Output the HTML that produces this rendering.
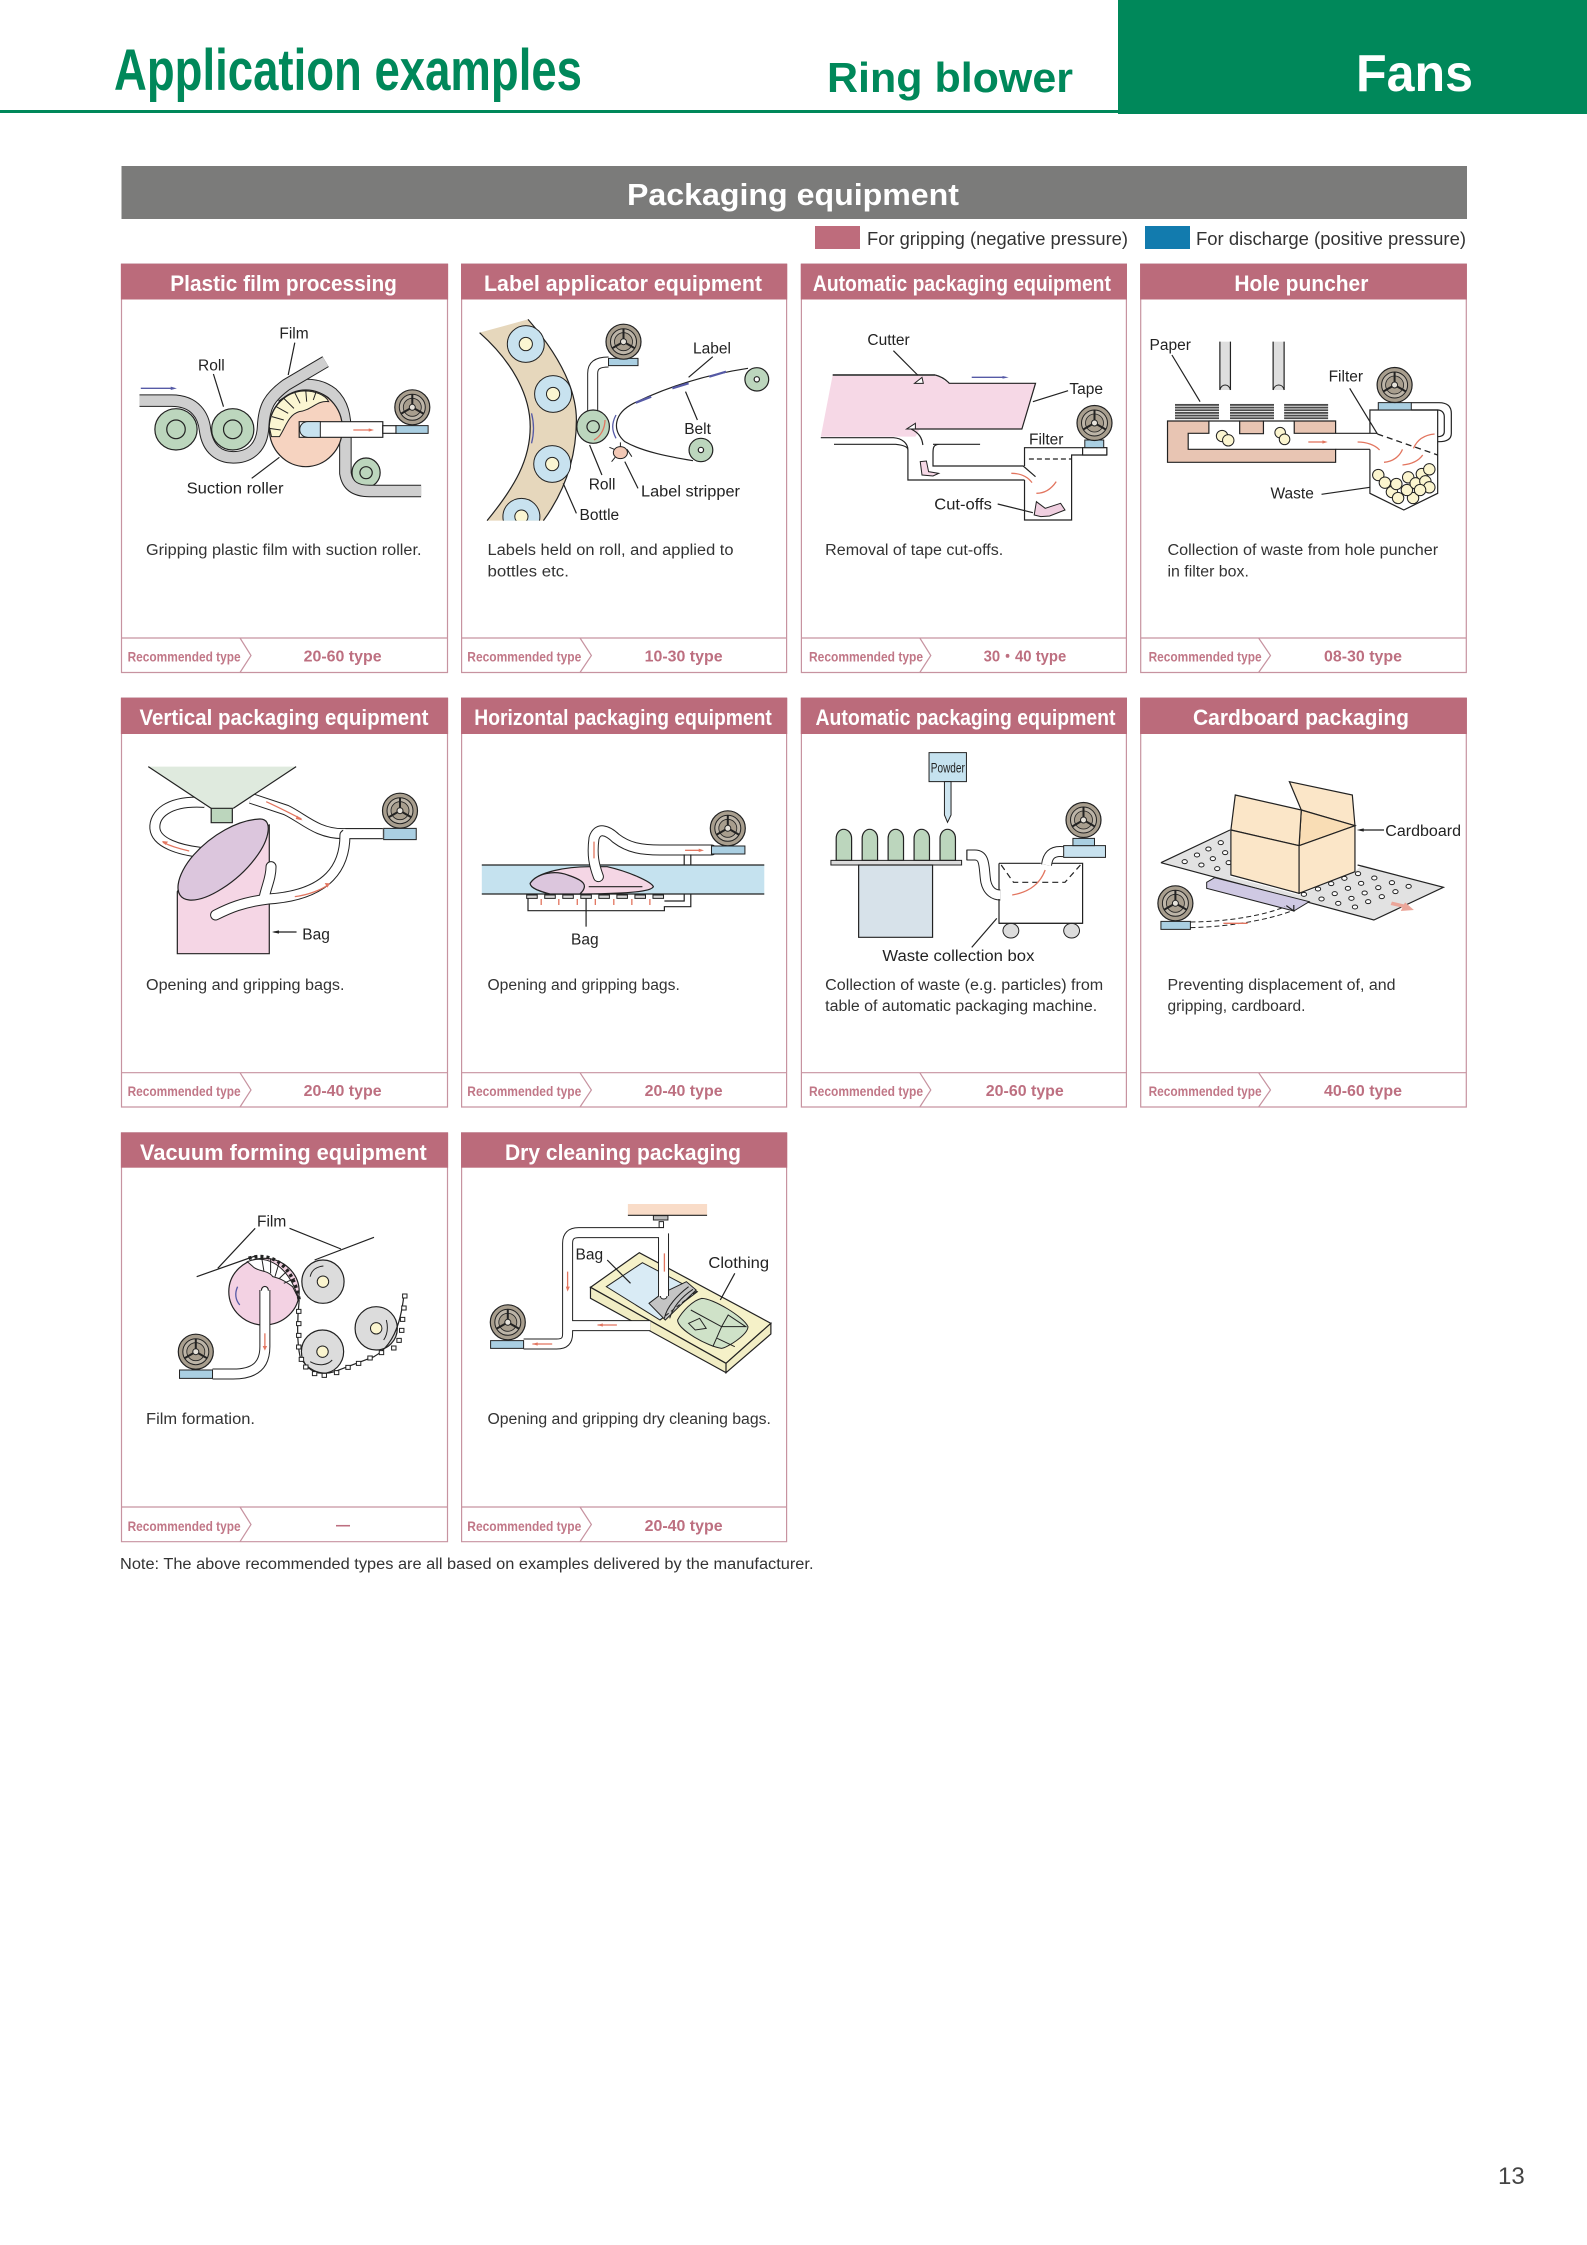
<!DOCTYPE html>
<html><head><meta charset="utf-8"><title>Application examples</title>
<style>
html,body{margin:0;padding:0;background:#fff}
svg{display:block;font-family:"Liberation Sans",sans-serif}
svg *{vector-effect:non-scaling-stroke}
.card{fill:#fff;stroke:#c793a0;stroke-width:1.2}
.hd{fill:#bb6b7b}
.ln{stroke:#c793a0;stroke-width:1.2;fill:none}
.t{font-size:22px;font-weight:bold;fill:#fff}
.d{font-size:15.5px;fill:#333}
.r{font-size:14px;font-weight:bold;fill:#c17787}
.y{font-size:15.5px;font-weight:bold;fill:#bd6f80}
.l{font-size:15.5px;fill:#222}
.k{fill:none;stroke:#222;stroke-width:1.2}
.s{stroke:#222;stroke-width:1.2}
.th{fill:none;stroke:#222;stroke-width:1}
.p1{fill:none;stroke:#222;stroke-width:11}
.p2{fill:none;stroke:#fff;stroke-width:9}
.rc{stroke-linecap:round}
.b1{fill:none;stroke:#222;stroke-width:12.5}
.b2{fill:none;stroke:#cfcfcf;stroke-width:10.5}
.ra{fill:none;stroke:#e2755f;stroke-width:1.3}
.rh{fill:#e2755f}
.ba{fill:none;stroke:#565aa6;stroke-width:1.3}
.bh{fill:#565aa6}
.gr{fill:#bcd6bd;stroke:#222;stroke-width:1.2}
.bl{fill:#aacfe2;stroke:#222;stroke-width:1}
.wh{fill:#fff;stroke:#222;stroke-width:1.2}
.cr{fill:#fbf5cf;stroke:#222;stroke-width:1}
.ho{fill:#fff;stroke:#222;stroke-width:1}
</style></head><body>
<svg xmlns="http://www.w3.org/2000/svg" width="1587" height="2245" viewBox="0 0 1587 2245">
<defs>
<g id="fan">
<circle r="17.5" fill="#a89e8e" stroke="#222" stroke-width="1.2"/>
<circle r="13" fill="#bdb5a8" stroke="#222" stroke-width="1"/>
<circle r="9" fill="#a89e8e" stroke="#222" stroke-width="0.8"/>
<path d="M0,0V-13M0,0L11.3,6.5M0,0L-11.3,6.5" stroke="#222" stroke-width="2" fill="none"/>
<circle r="3" fill="#e6e2da" stroke="#222" stroke-width="1"/>
</g>
<pattern id="st" patternUnits="userSpaceOnUse" width="10" height="8"><rect width="10" height="8" fill="#fff"/><rect width="10" height="5.5" fill="#4a4a4a"/></pattern>
</defs>
<rect width="1587" height="2245" fill="#fff"/>

<!-- page header -->
<rect x="0" y="110" width="1118" height="3" fill="#00885a"/>
<rect x="1118" y="0" width="469" height="114" fill="#00885a"/>
<text x="114" y="90" font-size="58" font-weight="bold" fill="#00885a" textLength="468" lengthAdjust="spacingAndGlyphs">Application examples</text>
<text x="827" y="92" font-size="42" font-weight="bold" fill="#00885a" textLength="246" lengthAdjust="spacingAndGlyphs">Ring blower</text>
<text x="1356" y="91" font-size="52" font-weight="bold" fill="#fff" textLength="117" lengthAdjust="spacingAndGlyphs">Fans</text>

<rect x="121.5" y="166" width="1345.5" height="53" fill="#7b7b7a"/>
<text x="627" y="205" font-size="31" font-weight="bold" fill="#fff" textLength="332" lengthAdjust="spacingAndGlyphs">Packaging equipment</text>

<rect x="815" y="226" width="45" height="23" fill="#be6c7c"/>
<text x="867" y="245" font-size="18.5" fill="#333" textLength="261" lengthAdjust="spacingAndGlyphs">For gripping (negative pressure)</text>
<rect x="1145" y="226" width="45" height="23" fill="#127bae"/>
<text x="1196" y="245" font-size="18.5" fill="#333" textLength="270" lengthAdjust="spacingAndGlyphs">For discharge (positive pressure)</text>

<!-- cards row 1 -->
<rect class="card" x="121.5" y="264" width="326" height="408.5"/><rect class="hd" x="120.9" y="264" width="327.2" height="35.5"/>
<rect class="card" x="461.6" y="264" width="325" height="408.5"/><rect class="hd" x="461" y="264" width="326.2" height="35.5"/>
<rect class="card" x="801.4" y="264" width="325" height="408.5"/><rect class="hd" x="800.8" y="264" width="326.2" height="35.5"/>
<rect class="card" x="1140.7" y="264" width="325.6" height="408.5"/><rect class="hd" x="1140.1" y="264" width="326.8" height="35.5"/>
<path class="ln" d="M121.5,638H447.5M240,638L251,655.5L240,672.5M461.6,638H786.6M580,638L591.4,655.5L580,672.5M801.4,638H1126.4M919.8,638L930.8,655.5L919.8,672.5M1140.7,638H1466.3M1258.6,638L1270.5,655.5L1258.6,672.5"/>
<!-- cards row 2 -->
<rect class="card" x="121.5" y="698" width="326" height="409"/><rect class="hd" x="120.9" y="698" width="327.2" height="36"/>
<rect class="card" x="461.6" y="698" width="325" height="409"/><rect class="hd" x="461" y="698" width="326.2" height="36"/>
<rect class="card" x="801.4" y="698" width="325" height="409"/><rect class="hd" x="800.8" y="698" width="326.2" height="36"/>
<rect class="card" x="1140.7" y="698" width="325.6" height="409"/><rect class="hd" x="1140.1" y="698" width="326.8" height="36"/>
<path class="ln" d="M121.5,1072.7H447.5M240,1072.7L251,1090L240,1107M461.6,1072.7H786.6M580,1072.7L591.4,1090L580,1107M801.4,1072.7H1126.4M919.8,1072.7L930.8,1090L919.8,1107M1140.7,1072.7H1466.3M1258.6,1072.7L1270.5,1090L1258.6,1107"/>
<!-- cards row 3 -->
<rect class="card" x="121.5" y="1132.7" width="326" height="409"/><rect class="hd" x="120.9" y="1132.7" width="327.2" height="35"/>
<rect class="card" x="461.6" y="1132.7" width="325" height="409"/><rect class="hd" x="461" y="1132.7" width="326.2" height="35"/>
<path class="ln" d="M121.5,1507H447.5M240,1507L251,1524.5L240,1541.7M461.6,1507H786.6M580,1507L591.4,1524.5L580,1541.7"/>

<!-- titles -->
<text class="t" x="170.3" y="291" textLength="226.6" lengthAdjust="spacingAndGlyphs">Plastic film processing</text>
<text class="t" x="484" y="291" textLength="278" lengthAdjust="spacingAndGlyphs">Label applicator equipment</text>
<text class="t" x="812.9" y="291" textLength="298" lengthAdjust="spacingAndGlyphs">Automatic packaging equipment</text>
<text class="t" x="1234.4" y="291" textLength="134" lengthAdjust="spacingAndGlyphs">Hole puncher</text>
<text class="t" x="139.5" y="725" textLength="289" lengthAdjust="spacingAndGlyphs">Vertical packaging equipment</text>
<text class="t" x="474.3" y="725" textLength="297.5" lengthAdjust="spacingAndGlyphs">Horizontal packaging equipment</text>
<text class="t" x="815.5" y="725" textLength="300" lengthAdjust="spacingAndGlyphs">Automatic packaging equipment</text>
<text class="t" x="1193" y="725" textLength="216" lengthAdjust="spacingAndGlyphs">Cardboard packaging</text>
<text class="t" x="140" y="1160" textLength="286.8" lengthAdjust="spacingAndGlyphs">Vacuum forming equipment</text>
<text class="t" x="505" y="1160" textLength="236" lengthAdjust="spacingAndGlyphs">Dry cleaning packaging</text>

<!-- descriptions -->
<text class="d" x="146" y="555" textLength="275.5" lengthAdjust="spacingAndGlyphs">Gripping plastic film with suction roller.</text>
<text class="d" x="487.5" y="555" textLength="246" lengthAdjust="spacingAndGlyphs">Labels held on roll, and applied to</text>
<text class="d" x="487.5" y="576.7" textLength="81.4" lengthAdjust="spacingAndGlyphs">bottles etc.</text>
<text class="d" x="825.2" y="555" textLength="178" lengthAdjust="spacingAndGlyphs">Removal of tape cut-offs.</text>
<text class="d" x="1167.5" y="555" textLength="270.6" lengthAdjust="spacingAndGlyphs">Collection of waste from hole puncher</text>
<text class="d" x="1167.5" y="576.7" textLength="81.4" lengthAdjust="spacingAndGlyphs">in filter box.</text>
<text class="d" x="146" y="990" textLength="198.5" lengthAdjust="spacingAndGlyphs">Opening and gripping bags.</text>
<text class="d" x="487.5" y="990" textLength="192.3" lengthAdjust="spacingAndGlyphs">Opening and gripping bags.</text>
<text class="d" x="825.2" y="990" textLength="278" lengthAdjust="spacingAndGlyphs">Collection of waste (e.g. particles) from</text>
<text class="d" x="825.2" y="1011" textLength="272" lengthAdjust="spacingAndGlyphs">table of automatic packaging machine.</text>
<text class="d" x="1167.5" y="990" textLength="228" lengthAdjust="spacingAndGlyphs">Preventing displacement of, and</text>
<text class="d" x="1167.5" y="1011" textLength="138" lengthAdjust="spacingAndGlyphs">gripping, cardboard.</text>
<text class="d" x="146" y="1424" textLength="109" lengthAdjust="spacingAndGlyphs">Film formation.</text>
<text class="d" x="487.5" y="1424" textLength="283.4" lengthAdjust="spacingAndGlyphs">Opening and gripping dry cleaning bags.</text>
<text class="d" x="120" y="1569" textLength="693.5" lengthAdjust="spacingAndGlyphs">Note: The above recommended types are all based on examples delivered by the manufacturer.</text>

<!-- footers -->
<text class="r" x="127.6" y="661.7" textLength="113" lengthAdjust="spacingAndGlyphs">Recommended type</text>
<text class="r" x="467.3" y="661.7" textLength="114" lengthAdjust="spacingAndGlyphs">Recommended type</text>
<text class="r" x="809" y="661.7" textLength="114" lengthAdjust="spacingAndGlyphs">Recommended type</text>
<text class="r" x="1148.6" y="661.7" textLength="113" lengthAdjust="spacingAndGlyphs">Recommended type</text>
<text class="r" x="127.6" y="1096" textLength="113" lengthAdjust="spacingAndGlyphs">Recommended type</text>
<text class="r" x="467.3" y="1096" textLength="114" lengthAdjust="spacingAndGlyphs">Recommended type</text>
<text class="r" x="809" y="1096" textLength="114" lengthAdjust="spacingAndGlyphs">Recommended type</text>
<text class="r" x="1148.6" y="1096" textLength="113" lengthAdjust="spacingAndGlyphs">Recommended type</text>
<text class="r" x="127.6" y="1531" textLength="113" lengthAdjust="spacingAndGlyphs">Recommended type</text>
<text class="r" x="467.3" y="1531" textLength="114" lengthAdjust="spacingAndGlyphs">Recommended type</text>
<text class="y" x="303.6" y="661.7" textLength="78" lengthAdjust="spacingAndGlyphs">20-60 type</text>
<text class="y" x="644.6" y="661.7" textLength="78" lengthAdjust="spacingAndGlyphs">10-30 type</text>
<text class="y" x="983.6" y="661.7" textLength="82.7" lengthAdjust="spacingAndGlyphs">30・40 type</text>
<text class="y" x="1324" y="661.7" textLength="78" lengthAdjust="spacingAndGlyphs">08-30 type</text>
<text class="y" x="303.6" y="1096" textLength="78" lengthAdjust="spacingAndGlyphs">20-40 type</text>
<text class="y" x="644.6" y="1096" textLength="78" lengthAdjust="spacingAndGlyphs">20-40 type</text>
<text class="y" x="985.8" y="1096" textLength="78" lengthAdjust="spacingAndGlyphs">20-60 type</text>
<text class="y" x="1324" y="1096" textLength="78" lengthAdjust="spacingAndGlyphs">40-60 type</text>
<text class="y" x="336" y="1530" textLength="14" lengthAdjust="spacingAndGlyphs">—</text>
<text class="y" x="644.6" y="1531" textLength="78" lengthAdjust="spacingAndGlyphs">20-40 type</text>

<!-- D1 + D2 -->
<g transform="translate(110,260) scale(.44,.33333)">
<ellipse class="gr" cx="150" cy="508" rx="48" ry="62"/><ellipse class="gr" cx="150" cy="508" rx="21" ry="28" fill="#bcd6bd"/>
<ellipse class="gr" cx="279" cy="508" rx="48" ry="62"/><ellipse class="gr" cx="279" cy="508" rx="21" ry="28"/>
<ellipse class="gr" cx="582" cy="638" rx="32" ry="44"/><ellipse class="gr" cx="582" cy="638" rx="14" ry="18"/>
<path class="b1" d="M375,410C420,365 470,365 505,400C530,430 535,470 535,520V640C540,680 560,693 590,693H707"/>
<path class="b2" d="M375,410C420,365 470,365 505,400C530,430 535,470 535,520V640C540,680 560,693 590,693H707"/>
<path class="b1" d="M67,422H140C195,422 213,470 216,510C222,570 250,592 280,592C320,592 346,560 348,500C350,440 362,412 400,375L490,305"/>
<path class="b2" d="M67,422H140C195,422 213,470 216,510C222,570 250,592 280,592C320,592 346,560 348,500C350,440 362,412 400,375L490,305"/>
<ellipse class="s" cx="445" cy="505" rx="83" ry="115" fill="#f6d3c0"/>
<path d="M362,500C365,440 400,395 440,393C465,392 490,405 497,425C470,420 460,450 430,455C405,465 400,500 385,530L367,530Z" fill="#fbf6d2" stroke="#222" stroke-width="1"/>
<path class="th" d="M368,470L395,480M378,440L405,460M395,415L418,445M420,398L432,430M445,393L447,425M468,397L462,420M362,505L388,510"/>
<rect class="wh" x="430" y="485" width="190" height="47"/>
<path d="M478,485H450C425,485 425,532 450,532H478Z" fill="#c8e2ef" stroke="#222" stroke-width="1"/>
<rect class="wh" x="620" y="497" width="30" height="23"/>
<rect class="bl" x="650" y="497" width="73" height="23"/>
<path class="ra" d="M553,510H590"/><path class="rh" d="M588,505L600,510L588,515Z"/>
<path class="ba" d="M70,385H140"/><path class="bh" d="M138,380L152,385L138,390Z"/>
<path class="k" d="M235,342L258,440M420,248L405,345M322,655L385,592"/>

<path d="M840,218L950,178C1030,300 1060,400 1060,480C1060,600 1030,700 985,782H857C920,680 955,600 955,500C955,400 910,300 840,218Z" fill="#e6d7bc"/>
<path class="k" d="M840,218C910,300 955,400 955,500C955,600 920,680 857,782M950,178C1030,300 1060,400 1060,480C1060,600 1030,700 985,782"/>
<clipPath id="cp2"><rect x="830" y="170" width="300" height="612"/></clipPath>
<g clip-path="url(#cp2)" stroke="#222" stroke-width="1">
<ellipse cx="945" cy="252" rx="42" ry="55" fill="#c8e2ef"/><ellipse cx="945" cy="252" rx="15" ry="20" fill="#fbf6d2"/>
<ellipse cx="1007" cy="402" rx="42" ry="55" fill="#c8e2ef"/><ellipse cx="1007" cy="402" rx="15" ry="20" fill="#fbf6d2"/>
<ellipse cx="1005" cy="612" rx="42" ry="55" fill="#c8e2ef"/><ellipse cx="1005" cy="612" rx="15" ry="20" fill="#fbf6d2"/>
<ellipse cx="935" cy="770" rx="42" ry="55" fill="#c8e2ef"/><ellipse cx="935" cy="770" rx="15" ry="20" fill="#fbf6d2"/>
</g>
<path class="ba" d="M958,460C964,490 964,520 958,550"/>
<path class="p1" d="M1097,455V340C1097,315 1110,306 1133,306"/><path class="p2" d="M1097,455V340C1097,315 1110,306 1133,306"/>
<rect class="bl" x="1133" y="295" width="67" height="22"/>
<ellipse class="gr" cx="1098" cy="500" rx="37" ry="50"/><ellipse class="gr" cx="1098" cy="500" rx="14" ry="18"/>
<path class="ra" d="M1100,540C1115,530 1125,505 1125,480"/>
<path class="ba" d="M1150,465C1140,490 1140,510 1150,535"/>
<path class="k" d="M1450,325C1350,345 1260,385 1190,430C1145,460 1140,510 1170,545C1210,575 1270,590 1325,602"/>
<ellipse class="gr" cx="1470" cy="358" rx="27" ry="35"/><ellipse class="wh" cx="1470" cy="358" rx="6" ry="8"/>
<ellipse class="gr" cx="1343" cy="570" rx="27" ry="35"/><ellipse class="wh" cx="1343" cy="570" rx="6" ry="8"/>
<path d="M1195,428L1230,410M1278,385L1315,370M1362,350L1400,335" stroke="#565aa6" stroke-width="2.2" fill="none"/>
<ellipse cx="1160" cy="578" rx="16" ry="18" fill="#f3c8b5" stroke="#222" stroke-width="1"/>
<path class="th" d="M1146,568L1135,562M1175,568L1186,590M1160,560V547M1148,592L1140,605"/>
<path class="k" d="M1370,290L1315,352M1335,480L1308,395M1118,645L1090,555M1200,685L1170,605M1060,760L1030,670"/>
</g>

<!-- D3 + D4 -->
<g transform="translate(790,260) scale(.44,.33333)">
<path d="M97,345H330L362,370H558L527,507H295L285,530H70Z" fill="#f6d8e6"/>
<path d="M97,345H330" stroke="#555" stroke-width="2" fill="none"/>
<path class="k" d="M330,345C345,350 355,360 362,370H558L527,507H280M70,533H235C255,535 268,550 268,570V660H533M100,553H240C255,555 268,560 268,570M325,553H432M340,553C325,553 325,565 325,580V618H530L558,650"/>
<path d="M283,370H303L300,352Z" fill="#fff" stroke="#222" stroke-width="1"/>
<path d="M265,507H285V490Z" fill="#fff" stroke="#222" stroke-width="1"/>
<path class="k" d="M275,507C295,520 300,535 302,555"/>
<path class="ba" d="M413,352H485"/><path class="bh" d="M483,348L497,352L483,356Z"/>
<path d="M296,605L310,603L315,635L338,640L325,648L300,645Z" fill="#f6d8e6" stroke="#222" stroke-width="1"/>
<path class="k" d="M533,660V780H640V585H720M533,618V563H720V585"/>
<rect class="wh" x="665" y="563" width="55" height="22"/>
<rect class="bl" x="670" y="540" width="43" height="23"/>
<path d="M543,597H640" stroke="#222" stroke-width="1.3" stroke-dasharray="5 3" fill="none"/>
<path class="ra" d="M503,640C525,640 540,650 550,668"/><path class="ra" d="M560,700C580,700 595,685 605,665"/>
<path d="M555,765L560,725L580,745L615,730L625,750L590,768L570,770Z" fill="#f0cfe0" stroke="#222" stroke-width="1"/>
<path class="k" d="M235,272L290,345M632,392L552,425M472,732L552,758"/>

<rect x="977" y="245" width="24" height="145" fill="#dedede"/><rect x="1098" y="245" width="25" height="145" fill="#dedede"/>
<path class="k" d="M977,245V390M1001,245V390M1098,245V390M1123,245V390"/>
<path class="th" d="M977,390C980,370 998,370 1001,390M1098,390C1102,370 1120,370 1123,390"/>
<rect x="875" y="430" width="100" height="50" fill="url(#st)"/><rect x="1000" y="430" width="100" height="50" fill="url(#st)"/><rect x="1123" y="430" width="100" height="50" fill="url(#st)"/>
<path d="M858,483H952V520H905V568H1240V607H858Z" fill="#e8c5b3" stroke="#222" stroke-width="1.2"/>
<rect x="1022" y="483" width="54" height="38" fill="#e8c5b3" stroke="#222" stroke-width="1.2"/>
<path d="M1146,483H1240V520H1146Z" fill="#e8c5b3" stroke="#222" stroke-width="1.2"/>
<path class="k" d="M952,483H1022M1076,483H1146M1240,520H1335M1240,568H1318"/>
<path class="k" d="M1318,568V700L1395,750L1472,700V450H1318V520"/>
<path d="M1335,522L1472,585" stroke="#222" stroke-width="1.3" stroke-dasharray="6 4" fill="none"/>
<rect class="bl" x="1337" y="428" width="75" height="22"/>
<path class="k" d="M1412,428H1475C1495,428 1503,440 1503,460V520C1503,535 1495,545 1475,545H1472M1412,450H1472C1482,450 1487,460 1487,470V515C1487,525 1482,530 1472,530"/>
<g class="cr">
<ellipse cx="982" cy="528" rx="13" ry="17"/><ellipse cx="996" cy="541" rx="13" ry="17"/><ellipse cx="1114" cy="518" rx="12" ry="16"/><ellipse cx="1124" cy="538" rx="12" ry="16"/>
<ellipse cx="1337" cy="645" rx="13" ry="17"/><ellipse cx="1352" cy="668" rx="13" ry="17"/><ellipse cx="1368" cy="696" rx="13" ry="17"/><ellipse cx="1382" cy="714" rx="13" ry="17"/><ellipse cx="1416" cy="714" rx="13" ry="17"/><ellipse cx="1402" cy="690" rx="13" ry="17"/><ellipse cx="1378" cy="672" rx="13" ry="17"/><ellipse cx="1405" cy="652" rx="13" ry="17"/><ellipse cx="1422" cy="670" rx="13" ry="17"/><ellipse cx="1436" cy="642" rx="13" ry="17"/><ellipse cx="1453" cy="628" rx="13" ry="17"/><ellipse cx="1444" cy="664" rx="13" ry="17"/><ellipse cx="1453" cy="682" rx="13" ry="17"/><ellipse cx="1432" cy="690" rx="13" ry="17"/>
</g>
<path class="ra" d="M1178,546H1212"/><path class="rh" d="M1210,541L1222,546L1210,551Z"/>
<path class="ra" d="M1290,546C1310,546 1330,555 1340,570M1350,607C1370,605 1385,590 1392,568M1392,615C1415,612 1430,600 1438,585M1417,565C1425,540 1440,525 1465,522"/>
<path class="k" d="M868,285L932,425M1272,385L1335,522M1208,703L1318,682"/>
</g>

<!-- D5 + D6 -->
<g transform="translate(110,695) scale(.44,.33333)">
<path class="p1" d="M620,416H530C470,416 440,370 400,345L320,310"/><path class="p2" d="M620,416H530C470,416 440,370 400,345L320,310"/>
<path class="p1" d="M215,322C130,315 100,360 102,400C105,445 160,465 205,472"/><path class="p2" d="M215,322C130,315 100,360 102,400C105,445 160,465 205,472"/>
<path d="M153,590V776H362V390L200,480Z" fill="#f5d6e5" stroke="#222" stroke-width="1.2"/>
<path d="M87,215H423L280,340H230Z" fill="#dfeade"/><path class="k" d="M87,215L230,340M423,215L280,340"/>
<rect class="gr" x="230" y="340" width="48" height="43"/>
<path d="M340,372C370,370 365,430 330,490C290,560 220,620 180,615C140,610 150,540 190,480C230,420 290,375 340,372Z" fill="#dcc6dd" stroke="#222" stroke-width="1.2"/>
<path class="p1 rc" d="M534,420C534,510 500,600 360,612C300,622 270,640 240,660"/>
<path class="p1 rc" d="M366,515C366,550 355,575 350,610"/>
<path class="p1" d="M620,416H535"/>
<path class="p2 rc" d="M534,420C534,510 500,600 360,612C300,622 270,640 240,660"/>
<path class="p2 rc" d="M366,515C366,550 355,575 350,610"/>
<path class="p2" d="M620,416H530"/>
<rect class="bl" x="622" y="400" width="74" height="34"/>
<path class="ra" d="M355,320C380,335 410,355 435,372"/><path class="rh" d="M425,362L438,376L422,372Z"/>
<path class="ra" d="M120,442C140,455 160,462 180,468"/><path class="rh" d="M118,438L132,440L126,450Z"/>
<path class="ra" d="M420,605C450,600 480,585 497,568"/><path class="rh" d="M488,564L500,565L494,578Z"/>
<path class="k" d="M372,711H424"/><path d="M368,711L384,706V716Z" fill="#222"/>

<rect x="845" y="510" width="642" height="87" fill="#c5e2ef"/>
<path class="k" d="M845,510H1487M845,597H1487"/>
<path d="M955,565C970,530 1040,515 1090,515H1130C1180,530 1230,560 1235,575C1230,590 1180,595 1080,597H1000C980,590 955,580 955,565Z" fill="#f5d6e5" stroke="#222" stroke-width="1.2"/>
<path d="M955,565C970,535 1010,525 1040,540C1075,555 1090,570 1068,597H1000C980,590 955,580 955,565Z" fill="#dcc6dd" stroke="#222" stroke-width="1.2"/>
<path class="k" d="M1088,575H1210"/>
<path class="p1 rc" d="M1110,545C1100,510 1095,480 1100,430C1108,395 1130,405 1150,430C1180,460 1210,465 1250,465H1367"/>
<path class="p2 rc" d="M1110,545C1100,510 1095,480 1100,430C1108,395 1130,405 1150,430C1180,460 1210,465 1250,465H1367"/>
<path class="k" d="M1305,478V510M1320,478V510M1305,597V618H1260M1320,597V635H1260V647H950V610"/>
<rect class="bl" x="1367" y="453" width="76" height="24"/>
<g fill="#d8d8d8" stroke="#222" stroke-width="1"><rect x="947" y="600" width="24" height="10"/><rect x="988" y="600" width="24" height="10"/><rect x="1029" y="600" width="24" height="10"/><rect x="1070" y="600" width="24" height="10"/><rect x="1111" y="600" width="24" height="10"/><rect x="1152" y="600" width="24" height="10"/><rect x="1193" y="600" width="24" height="10"/><rect x="1234" y="600" width="24" height="10"/></g>
<path class="ra" d="M980,612V630M1020,612V630M1062,612V630M1103,612V630M1145,612V630M1186,612V630M1227,612V630M1100,490V440"/>
<path class="ra" d="M1307,466H1340"/><path class="rh" d="M1338,461L1350,466L1338,471Z"/>
<path class="k" d="M1082,610V695"/>
</g>

<!-- D7 + D8 -->
<g transform="translate(790,695) scale(.44,.33333)">
<rect class="bl" x="316" y="173" width="85" height="87" fill="#c5e2ef" style="fill:#c5e2ef"/>
<path d="M351,260H366V360L358,382L351,360Z" fill="#cde5f0" stroke="#222" stroke-width="1"/>
<rect x="93" y="496" width="297" height="14" fill="#dcdcdc" stroke="#222" stroke-width="1"/>
<rect x="156" y="510" width="168" height="217" fill="#d7e2ea" stroke="#222" stroke-width="1.2"/>
<g class="gr">
<path d="M105,496V430C105,415 112,403 122,403C132,403 140,415 140,430V496Z"/><path d="M164,496V430C164,415 171,403 181,403C191,403 199,415 199,430V496Z"/><path d="M223,496V430C223,415 230,403 240,403C250,403 258,415 258,430V496Z"/><path d="M282,496V430C282,415 289,403 299,403C309,403 317,415 317,430V496Z"/><path d="M341,496V430C341,415 348,403 358,403C368,403 376,415 376,430V496Z"/>
</g>
<path class="p1" d="M402,480H420C445,480 440,520 445,560C450,590 465,600 478,600"/><path class="p2" d="M402,480H420C445,480 440,520 445,560C450,590 465,600 478,600"/>
<path class="k" d="M402,464V496"/>
<path class="p1" d="M622,470C590,465 585,490 583,510"/><path class="p2" d="M622,470C590,465 585,490 583,510"/>
<path class="k" d="M475,505H570M595,505H665V685H475V612M475,585V505"/>
<ellipse cx="502" cy="707" rx="18" ry="22" fill="#dcdcdc" stroke="#222" stroke-width="1"/><ellipse cx="640" cy="707" rx="18" ry="22" fill="#dcdcdc" stroke="#222" stroke-width="1"/>
<path class="k" d="M475,685H665"/>
<path d="M480,510L508,562H625L660,510" stroke="#222" stroke-width="1.2" stroke-dasharray="6 4" fill="none"/>
<rect class="bl" x="622" y="452" width="95" height="35" style="fill:#c8e2ef"/><rect class="bl" x="643" y="430" width="49" height="22"/>
<path class="ra" d="M505,600C550,590 570,560 580,525"/>
<path class="k" d="M470,670L413,757"/>

<path d="M843,503L1000,405V545L1157,600L1284,530L1300,510L1485,577L1327,675Z" fill="#e2e2e2"/>
<path class="k" d="M843,503L1000,405M843,503L1327,675L1485,577L1290,510"/>
<g class="ho">
<ellipse cx="897" cy="500" rx="6" ry="6"/><ellipse cx="925" cy="480" rx="6" ry="6"/><ellipse cx="951" cy="462" rx="6" ry="6"/><ellipse cx="979" cy="443" rx="6" ry="6"/><ellipse cx="935" cy="510" rx="6" ry="6"/><ellipse cx="961" cy="491" rx="6" ry="6"/><ellipse cx="989" cy="473" rx="6" ry="6"/><ellipse cx="971" cy="521" rx="6" ry="6"/><ellipse cx="997" cy="503" rx="6" ry="6"/>
<ellipse cx="1168" cy="598" rx="6" ry="6"/><ellipse cx="1200" cy="582" rx="6" ry="6"/><ellipse cx="1230" cy="566" rx="6" ry="6"/><ellipse cx="1260" cy="550" rx="6" ry="6"/><ellipse cx="1291" cy="536" rx="6" ry="6"/>
<ellipse cx="1208" cy="612" rx="6" ry="6"/><ellipse cx="1238" cy="596" rx="6" ry="6"/><ellipse cx="1268" cy="580" rx="6" ry="6"/><ellipse cx="1298" cy="565" rx="6" ry="6"/><ellipse cx="1328" cy="549" rx="6" ry="6"/>
<ellipse cx="1246" cy="625" rx="6" ry="6"/><ellipse cx="1276" cy="610" rx="6" ry="6"/><ellipse cx="1306" cy="594" rx="6" ry="6"/><ellipse cx="1337" cy="578" rx="6" ry="6"/><ellipse cx="1368" cy="563" rx="6" ry="6"/>
<ellipse cx="1284" cy="636" rx="6" ry="6"/><ellipse cx="1314" cy="620" rx="6" ry="6"/><ellipse cx="1345" cy="605" rx="6" ry="6"/><ellipse cx="1376" cy="590" rx="6" ry="6"/><ellipse cx="1406" cy="574" rx="6" ry="6"/>
</g>
<path d="M947,562L965,548L1180,620L1145,648L947,580Z" fill="#cfc9e3" stroke="#222" stroke-width="1"/>
<path class="k" d="M1128,632L1145,648V630"/>
<path d="M1135,260L1278,300L1284,392L1162,345Z" fill="#fbe6c8" stroke="#222" stroke-width="1.2"/>
<path d="M1162,345L1284,392L1157,452Z" fill="#f9ddb5" stroke="#222" stroke-width="1.2"/>
<path d="M1012,300L1162,345L1157,452L1002,405Z" fill="#fbe6c8" stroke="#222" stroke-width="1.2"/>
<path d="M1002,405L1157,452V595L1002,540Z" fill="#fbe6c8" stroke="#222" stroke-width="1.2"/>
<path d="M1157,452L1284,392V530L1157,595Z" fill="#fbe6c8" stroke="#222" stroke-width="1.2"/>
<path d="M910,681C1000,680 1080,660 1125,635M910,698C1010,695 1100,670 1145,645" stroke="#222" stroke-width="1" stroke-dasharray="5 3" fill="none"/>
<rect class="bl" x="843" y="679" width="67" height="24"/>
<path class="ra" d="M985,685H1040"/><path d="M1368,620L1395,628L1398,622L1418,645L1388,648L1392,638L1365,630Z" fill="#eba69a"/>
<path class="k" d="M1296,405H1350"/><path d="M1288,405L1304,400V410Z" fill="#222"/>
</g>

<!-- D9 + D10 -->
<g transform="translate(110,1130) scale(.44,.33333)">
<ellipse cx="350" cy="485" rx="80" ry="100" fill="#f3d2e3" stroke="#222" stroke-width="1.2"/>
<path d="M312,395C345,378 400,385 430,510L415,470C395,450 385,445 370,440C360,420 335,425 325,410Z" fill="#fff" stroke="#222" stroke-width="1"/>
<path class="th" d="M345,385L350,425M365,385L365,430M385,395L375,440M405,420L385,445M420,445L395,460"/>
<path d="M315,385C365,365 415,400 430,510" stroke="#222" stroke-width="3.5" stroke-dasharray="3 3" fill="none"/>
<path class="k" d="M197,440L330,378M465,390L600,322"/>
<path class="ba" d="M290,470C283,490 285,510 295,525"/>
<ellipse cx="484" cy="455" rx="48" ry="65" fill="#dcdcdc" stroke="#222" stroke-width="1.2"/><ellipse class="cr" cx="484" cy="455" rx="13" ry="17"/>
<ellipse cx="483" cy="665" rx="48" ry="65" fill="#dcdcdc" stroke="#222" stroke-width="1.2"/><ellipse class="cr" cx="483" cy="665" rx="13" ry="17"/>
<ellipse cx="605" cy="595" rx="48" ry="65" fill="#dcdcdc" stroke="#222" stroke-width="1.2"/><ellipse class="cr" cx="605" cy="595" rx="13" ry="17"/>
<path class="th" d="M455,440C458,420 470,410 485,408M505,690C495,705 475,710 455,695M628,570C632,590 632,610 622,630"/>
<path class="k" d="M430,510C425,570 425,640 432,680C445,715 475,740 510,725L600,680C640,650 660,590 668,495"/>
<g fill="#fff" stroke="#222" stroke-width="1"><rect x="424" y="538" width="10" height="12"/><rect x="424" y="575" width="10" height="12"/><rect x="424" y="610" width="10" height="12"/><rect x="424" y="645" width="10" height="12"/><rect x="430" y="682" width="10" height="12"/><rect x="440" y="705" width="10" height="12"/><rect x="460" y="725" width="10" height="12"/><rect x="482" y="730" width="10" height="12"/><rect x="510" y="722" width="10" height="12"/><rect x="536" y="706" width="10" height="12"/><rect x="560" y="694" width="10" height="12"/><rect x="586" y="678" width="10" height="12"/><rect x="612" y="662" width="10" height="12"/><rect x="640" y="648" width="10" height="12"/><rect x="652" y="625" width="10" height="12"/><rect x="658" y="595" width="10" height="12"/><rect x="660" y="562" width="10" height="12"/><rect x="663" y="528" width="10" height="12"/><rect x="665" y="492" width="10" height="12"/></g>
<path class="p1" d="M352,480V650C352,705 330,732 280,732H233"/><path class="p2" d="M352,480V650C352,705 330,732 280,732H233"/>
<path d="M344,482C344,465 360,465 360,482" fill="#fff" stroke="#222" stroke-width="1.2"/>
<path class="ra" d="M352,610V650"/><path class="rh" d="M347,648L352,662L357,648Z"/>
<rect class="bl" x="158" y="720" width="75" height="25"/>
<path class="k" d="M330,295L245,415M408,295L525,357"/>

<path d="M1092,472L1203,368L1502,580L1400,700Z" fill="#f5f1c8" stroke="#222" stroke-width="1.2"/>
<path d="M1092,472L1400,700V728L1092,505ZM1400,700L1502,580V612L1400,728Z" fill="#f1edc4" stroke="#222" stroke-width="1.2"/>
<path d="M1128,470L1210,398L1335,485L1250,570Z" fill="#d9ebf5" stroke="#222" stroke-width="1"/>
<path d="M1225,520L1255,490L1310,455L1332,480L1262,570Z" fill="#c4c4c4" stroke="#222" stroke-width="1"/>
<path class="th" d="M1260,565C1265,530 1290,495 1315,470M1272,565C1280,530 1300,500 1325,478"/>
<path d="M1250,570L1335,482" stroke="#222" stroke-width="1" stroke-dasharray="4 3" fill="none"/>
<path d="M1290,570C1300,545 1325,510 1345,505C1370,505 1440,560 1450,590C1450,615 1400,655 1390,655C1360,650 1290,600 1290,570Z" fill="#cfe2c8" stroke="#222" stroke-width="1"/>
<path class="th" d="M1315,580L1340,565L1355,595L1330,600ZM1320,540L1390,590L1370,650M1390,590L1405,555L1445,590L1390,590M1380,625L1420,650"/>
<rect x="1177" y="222" width="180" height="33" fill="#f9dcc8"/><path class="k" d="M1177,256H1357"/>
<rect x="1235" y="257" width="33" height="13" fill="#bbb" stroke="#222" stroke-width="1"/>
<rect x="1248" y="275" width="10" height="18" fill="#fff" stroke="#222" stroke-width="1"/>
<path class="p1" d="M1258,308H1065C1048,308 1040,318 1040,340V610C1040,630 1035,642 1015,642H940"/>
<path class="p1" d="M1040,587H1228"/>
<path class="p1" d="M1258,310V498"/>
<path class="p2" d="M1258,308H1065C1048,308 1040,318 1040,340V610C1040,630 1035,642 1015,642H940"/>
<path class="p2" d="M1040,587H1228"/>
<path class="p2" d="M1258,303V498"/>
<path d="M1251,498C1251,510 1266,510 1266,498" fill="#fff" stroke="#222" stroke-width="1"/>
<rect class="bl" x="865" y="632" width="75" height="23"/>
<path class="ra" d="M1040,425V480M1260,370V425M1108,585H1152M960,642H1005"/><path class="rh" d="M1036,470L1040,485L1045,470ZM1120,580L1108,585L1120,590ZM972,637L960,642L972,647Z"/>
<path class="k" d="M1130,390L1183,460M1420,430L1387,510"/>
</g>

<!-- fans -->
<use href="#fan" x="412.3" y="407.3"/>
<use href="#fan" x="623.5" y="341.7"/>
<use href="#fan" x="1094.5" y="423"/>
<use href="#fan" x="1394.6" y="385"/>
<use href="#fan" x="400" y="810.7"/>
<use href="#fan" x="727.8" y="828.3"/>
<use href="#fan" x="1083.5" y="820"/>
<use href="#fan" x="1175.4" y="903.3"/>
<use href="#fan" x="195.8" y="1351.7"/>
<use href="#fan" x="507.8" y="1322.3"/>

<!-- labels -->
<text class="l" x="279.4" y="338.3">Film</text>
<text class="l" x="198" y="370.7">Roll</text>
<text class="l" x="186.6" y="493.3" textLength="97" lengthAdjust="spacingAndGlyphs">Suction roller</text>
<text class="l" x="693" y="353.3">Label</text>
<text class="l" x="684.2" y="434">Belt</text>
<text class="l" x="588.7" y="489.3">Roll</text>
<text class="l" x="641" y="496.7" textLength="99" lengthAdjust="spacingAndGlyphs">Label stripper</text>
<text class="l" x="579.5" y="520">Bottle</text>
<text class="l" x="867.4" y="345">Cutter</text>
<text class="l" x="1069.4" y="394">Tape</text>
<text class="l" x="1029" y="444.3">Filter</text>
<text class="l" x="934.3" y="509.3" textLength="57.6" lengthAdjust="spacingAndGlyphs">Cut-offs</text>
<text class="l" x="1149.5" y="350">Paper</text>
<text class="l" x="1328.6" y="381.7">Filter</text>
<text class="l" x="1270.5" y="498.7">Waste</text>
<text class="l" x="302.3" y="939.3">Bag</text>
<text class="l" x="571" y="944.3">Bag</text>
<text x="930.8" y="772.7" font-size="14" fill="#222" textLength="34" lengthAdjust="spacingAndGlyphs">Powder</text>
<text class="l" x="882.4" y="961" textLength="152" lengthAdjust="spacingAndGlyphs">Waste collection box</text>
<text class="l" x="1385.3" y="836" textLength="75.7" lengthAdjust="spacingAndGlyphs">Cardboard</text>
<text class="l" x="257" y="1226.7">Film</text>
<text class="l" x="575.5" y="1259.3">Bag</text>
<text class="l" x="708.4" y="1268" textLength="60.7" lengthAdjust="spacingAndGlyphs">Clothing</text>

<text x="1498" y="2184" font-size="24" fill="#444">13</text>
</svg>
</body></html>
